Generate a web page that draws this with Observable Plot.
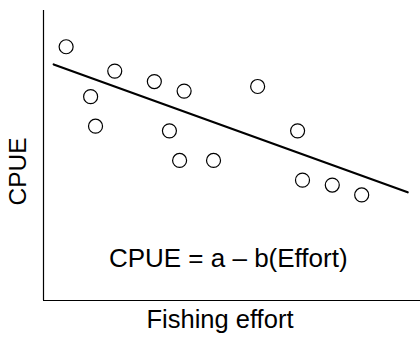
<!DOCTYPE html>
<html>
<head>
<meta charset="utf-8">
<script src="https://cdn.jsdelivr.net/npm/d3@7"></script>
<script src="https://cdn.jsdelivr.net/npm/@observablehq/plot@0.6"></script>
<style>
  html, body { margin: 0; padding: 0; background: #fff; }
</style>
</head>
<body>
<div id="chart"></div>
<script>
// Observations (arbitrary units, 0–100)
const effort = [6.0, 12.5, 13.8, 18.9, 29.4, 37.3, 33.4, 36.1, 45.1, 56.8, 67.4, 68.7, 76.6, 84.4];
const cpue   = [87.5, 70.3, 60.1, 79.1, 75.5, 72.2, 58.5, 48.3, 48.3, 73.8, 58.5, 41.5, 39.8, 36.4];
// Fitted line endpoints
const lineEffort = [2.7, 96.6];
const lineCpue   = [81.4, 37.3];
// Texts
const equation = "CPUE = a \u2013 b(Effort)";
const xLabel = "Fishing effort";
const yLabel = "CPUE";

const points = effort.map((e, i) => ({effort: e, cpue: cpue[i]}));
const fit = lineEffort.map((e, i) => ({effort: e, cpue: lineCpue[i]}));

const font = "'Liberation Sans', Arial, Helvetica, sans-serif";

const chart = Plot.plot({
  width: 420,
  height: 341,
  marginLeft: 43,
  marginRight: 0,
  marginTop: 10,
  marginBottom: 41,
  style: {fontFamily: font, background: "#fff", color: "#000"},
  x: {domain: [0, 100], axis: null},
  y: {domain: [0, 100], axis: null},
  marks: [
    Plot.ruleX([0], {stroke: "#000", strokeWidth: 1.2}),
    Plot.ruleY([0], {stroke: "#000", strokeWidth: 1.2}),
    Plot.line(fit, {x: "effort", y: "cpue", stroke: "#000", strokeWidth: 2.2}),
    Plot.dot(points, {x: "effort", y: "cpue", r: 7, stroke: "#000", strokeWidth: 1.2, fill: "#fff"}),
    Plot.text([equation], {x: 49.0, y: 14.4, text: d => d, fontSize: 26, fill: "#000", textAnchor: "middle"}),
    Plot.text([xLabel], {frameAnchor: "bottom", text: d => d, dx: -12, dy: 27, fontSize: 25.5, fill: "#000"}),
    Plot.text([yLabel], {x: -6.6, y: 44.5, text: d => d, rotate: -90, fontSize: 24.5, fill: "#000"})
  ]
});
document.getElementById("chart").appendChild(chart);
</script>
</body>
</html>
